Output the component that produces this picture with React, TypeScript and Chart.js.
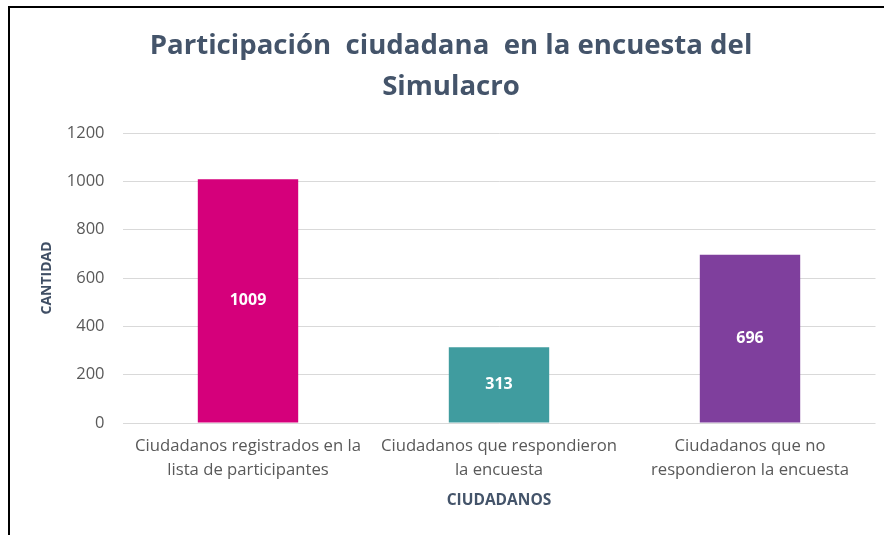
import React, { useEffect, useRef } from "react";
import { Chart, registerables } from "chart.js";

Chart.register(...registerables);

const categories: string[][] = [
  ["Ciudadanos registrados en la", "lista de participantes"],
  ["Ciudadanos que respondieron", "la encuesta"],
  ["Ciudadanos que no", "respondieron la encuesta"],
];
const values: number[] = [1009, 313, 696];
const barColors: string[] = ["#D5007B", "#409C9F", "#7F3F9D"];
const titleLines: string[] = ["Participación  ciudadana  en la encuesta del", "Simulacro"];
const yTitle = "CANTIDAD";
const xTitle = "CIUDADANOS";
const yMax = 1200;
const yStep = 200;

const FONT = "'Open Sans', sans-serif";

const dataLabelPlugin = {
  id: "dataLabels",
  afterDatasetsDraw(chart: any) {
    const ctx = chart.ctx;
    const meta = chart.getDatasetMeta(0);
    ctx.save();
    ctx.fillStyle = "#FFFFFF";
    ctx.font = `bold 16px ${FONT}`;
    ctx.textAlign = "center";
    ctx.textBaseline = "middle";
    meta.data.forEach((bar: any, i: number) => {
      const y = (bar.y + bar.base) / 2;
      ctx.fillText(String(values[i]), bar.x, y);
    });
    ctx.restore();
  },
};

export default function App() {
  const canvasRef = useRef<HTMLCanvasElement>(null);
  useEffect(() => {
    if (!canvasRef.current) return;
    const chart = new Chart(canvasRef.current, {
      type: "bar",
      data: {
        labels: categories,
        datasets: [
          {
            data: values,
            backgroundColor: barColors,
            borderWidth: 0,
            barPercentage: 0.8,
            categoryPercentage: 0.5,
          },
        ],
      },
      options: {
        responsive: false,
        animation: false,
        layout: { padding: { top: 26, left: 26.5, right: 8.5, bottom: 12 } },
        plugins: {
          legend: { display: false },
          tooltip: { enabled: false },
          title: {
            display: true,
            text: titleLines,
            color: "#44546A",
            font: { family: FONT, size: 27.6, weight: "bold", lineHeight: 41 / 27.6 },
            padding: { top: 0, bottom: 25 },
          },
        },
        scales: {
          x: {
            grid: { display: false },
            border: { display: false },
            ticks: {
              color: "#595959",
              font: { family: FONT, size: 16.7, lineHeight: 24 / 16.7 },
              padding: 3,
              maxRotation: 0,
              autoSkip: false,
            },
            title: {
              display: true,
              text: xTitle,
              color: "#44546A",
              font: { family: FONT, size: 15.5, weight: "bold" },
              padding: { top: 4, bottom: 13 },
            },
            afterFit(scale: any) {
              scale.height = 100;
            },
          },
          y: {
            min: 0,
            max: yMax,
            grid: { color: "#D9D9D9", drawTicks: false, lineWidth: 1 },
            border: { display: false },
            ticks: {
              stepSize: yStep,
              color: "#595959",
              font: { family: FONT, size: 16.5 },
              padding: 18,
              callback: (v: any) => String(v),
            },
            title: {
              display: true,
              text: yTitle,
              color: "#404F65",
              font: { family: FONT, size: 14, weight: "bold" },
              padding: { top: 12, bottom: 0 },
            },
            afterFit(scale: any) {
              scale.width = 96;
            },
          },
        },
      },
      plugins: [dataLabelPlugin],
    });
    return () => chart.destroy();
  }, []);

  return (
    <div style={{ position: "fixed", left: 0, top: 0, width: 884, height: 535, background: "#fff", overflow: "hidden" }}>
      <canvas ref={canvasRef} width={884} height={535} style={{ position: "absolute", left: 0, top: 0, width: 884, height: 535 }} />
      <div
        style={{
          position: "absolute",
          left: 8,
          top: 6,
          width: 1000,
          height: 1000,
          borderLeft: "2px solid #000",
          borderTop: "2px solid #000",
          pointerEvents: "none",
        }}
      />
    </div>
  );
}
